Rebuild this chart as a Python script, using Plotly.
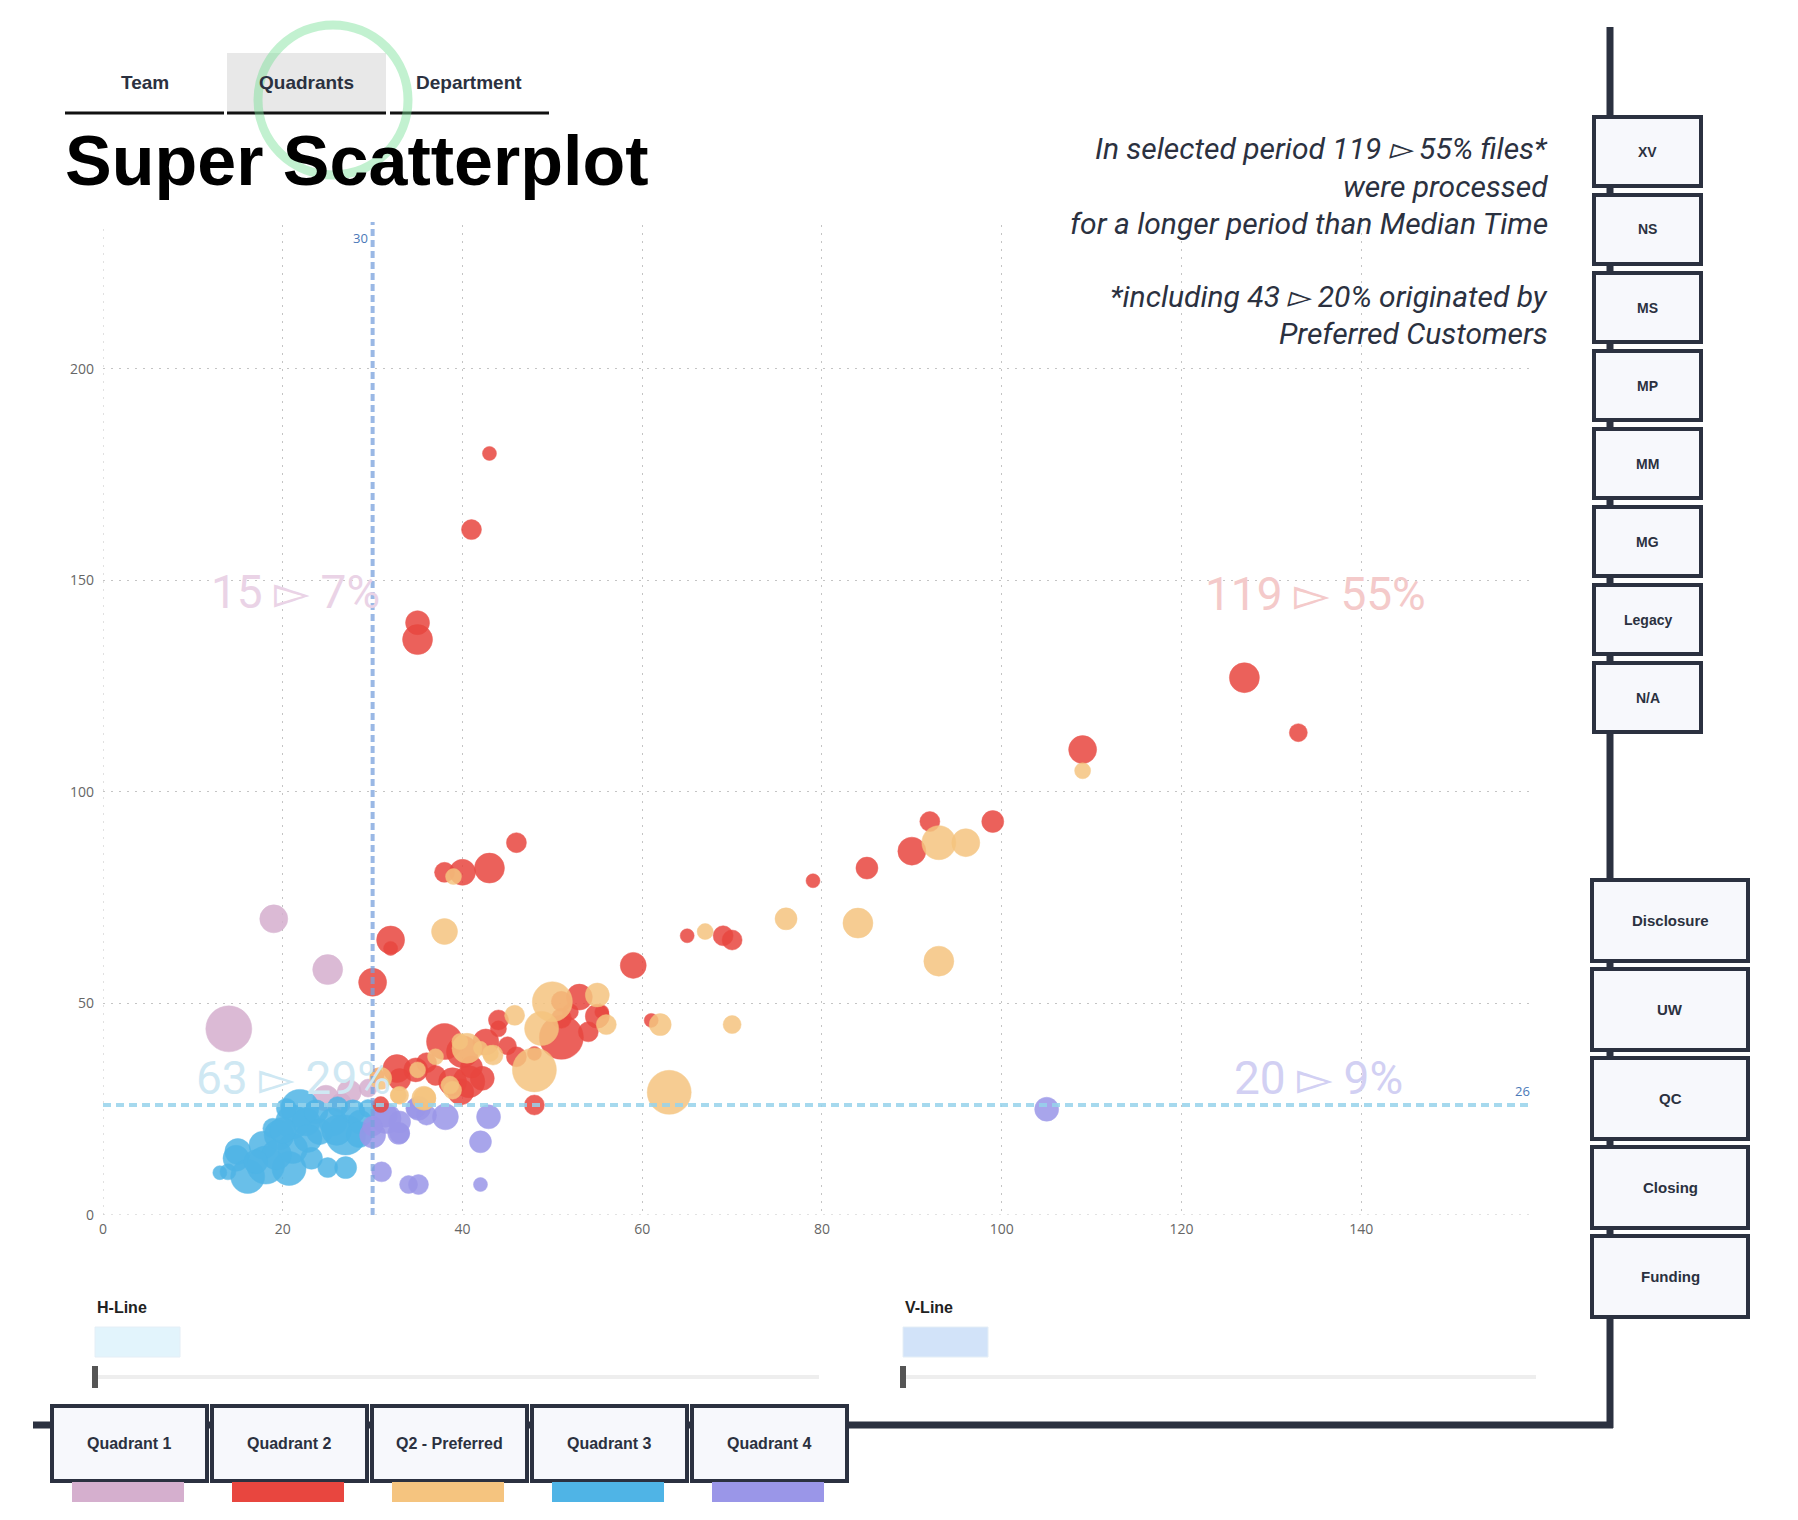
import plotly.graph_objects as go

# page size and plot box in pixels
W, H = 1798, 1520
PL, PR, PT, PB = 103, 1532, 225, 1215

# Quadrant 1 (pink)
q1_x = [14, 19, 25, 24.8, 27.4, 29.5, 26.5]
q1_y = [44, 70, 58, 27.6, 29.1, 30, 26.5]
q1_s = [46, 28, 30, 26, 24, 18, 20]

# Quadrant 2 (red)
q2_x = [43, 41, 35, 35, 46, 43, 40, 38, 32, 32, 30, 127, 133, 109, 99, 92, 90, 85, 79,
        65, 69, 70, 59, 61, 55.5, 53, 51, 55, 54, 51, 51, 48, 46, 44, 42.6, 42.2, 38, 40,
        40.7, 38.9, 39.8, 34.8, 32.7, 30.9, 48, 30.5, 36, 44, 52, 33, 37, 45, 41]
q2_y = [180, 162, 140, 136, 88, 82, 81, 81, 65, 63, 55, 127, 114, 110, 93, 93, 86, 82, 79,
        66, 66, 65, 59, 46, 48, 51.5, 50.5, 47, 43.3, 42, 46.5, 38.2, 37.4, 46.1, 40.9, 32.3, 41, 38.6,
        31.5, 31.5, 29.1, 34.3, 34.6, 26.1, 26, 33, 36, 44, 48, 32, 33, 40, 35]
q2_s = [14, 20, 24, 30, 20, 30, 26, 20, 28, 14, 28, 30, 18, 28, 22, 20, 28, 22, 14,
        14, 20, 20, 26, 14, 14, 26, 20, 24, 20, 44, 20, 14, 20, 20, 26, 24, 36, 32,
        32, 28, 26, 24, 28, 16, 20, 14, 20, 16, 16, 22, 20, 18, 22]

# Q2 - Preferred (orange)
q2p_x = [39, 38, 109, 93, 96, 76, 84, 67, 93, 62, 70, 63, 55, 56, 50, 48.8, 48, 45.8, 43.4,
         42, 37, 35, 32.85, 30.9, 35.7, 38.9, 33, 35.8, 39.7, 43.1, 40.5, 38.6]
q2p_y = [80, 67, 105, 88, 88, 70, 69, 67, 60, 45, 45, 29, 52, 45, 50.4, 44.1, 34.3, 47.2, 37.8,
         39.4, 37.4, 34.3, 28.3, 32.3, 27.6, 29.5, 28.3, 27.6, 41, 38.2, 39.4, 30.7]
q2p_s = [16, 26, 16, 34, 28, 22, 30, 16, 30, 22, 18, 44, 24, 20, 40, 34, 44, 20, 20,
         14, 16, 16, 16, 22, 24, 18, 18, 22, 16, 16, 30, 18]

# Quadrant 3 (blue)
q3_x = [15, 13.9, 14.8, 16.1, 18.1, 18.9, 17.8, 19.6, 21.1, 21.9, 20.7, 23.2, 21.1, 22.6, 23.7, 25,
        27, 27, 25.6, 27.8, 28.6, 24.1, 19.3, 17, 29.5, 26.1, 22.8, 20.4, 26, 28.5, 20, 13]
q3_y = [15, 10.2, 13.4, 9.1, 11.8, 20.5, 16.5, 18.9, 22, 25.2, 11, 13.4, 15.7, 22, 24.4, 11.2,
        11.2, 18.9, 22, 24.4, 22, 19.7, 14.2, 12.6, 25.2, 25.6, 18.1, 25.2, 20, 19, 20, 10]
q3_s = [26, 16, 26, 34, 38, 20, 28, 30, 34, 38, 34, 22, 30, 28, 24, 20,
        22, 40, 28, 24, 24, 26, 30, 24, 18, 20, 28, 20, 30, 26, 26, 14]

# Quadrant 4 (purple)
q4_x = [105, 30, 33, 35.1, 38.1, 42.9, 42, 42, 31, 34, 35.1, 31.5, 36, 31.4, 32.9, 34.8, 30, 33]
q4_y = [25, 18.9, 19.3, 25.2, 23.2, 23.2, 17.3, 7.2, 10.2, 7.2, 7.2, 22.8, 23.6, 23.6, 19.3, 25.2, 21, 22]
q4_s = [24, 26, 20, 24, 26, 24, 22, 14, 20, 18, 20, 30, 20, 24, 22, 20, 20, 22]

x_ticks = [0, 20, 40, 60, 80, 100, 120, 140]
y_ticks = [0, 50, 100, 150, 200]
v_line = 30
h_line = 26

quad_labels = ["15 ▻ 7%", "119 ▻ 55%", "63 ▻ 29%", "20 ▻ 9%"]
quad_names = ["Quadrant 1", "Quadrant 2", "Q2 - Preferred", "Quadrant 3", "Quadrant 4"]
quad_colors = ["#d5afce", "#e8463f", "#f5c47f", "#4fb4e6", "#9a96e8"]
tabs = ["Team", "Quadrants", "Department"]
stage_buttons = ["XV", "NS", "MS", "MP", "MM", "MG", "Legacy", "N/A"]
step_buttons = ["Disclosure", "UW", "QC", "Closing", "Funding"]
note_lines = ["In selected period 119 ▻ 55% files*", "were processed",
              "for a longer period than Median Time", "*including 43 ▻ 20% originated by",
              "Preferred Customers"]

DARK = "#2b3140"
GRID = dict(color="#c4c4c4", width=1, dash="2px,6px")


def fx(px):
    """pixel x -> paper x"""
    return (px - PL) / (PR - PL)


def fy(py):
    """pixel y (from top) -> paper y"""
    return (PB - py) / (PB - PT)


def note(px, py, text, font, xanchor="center"):
    annotations.append(dict(xref="paper", yref="paper", x=fx(px), y=fy(py), text=text,
                            showarrow=False, xanchor=xanchor, yanchor="middle", font=font))


fig = go.Figure()

groups = [(q1_x, q1_y, q1_s), (q3_x, q3_y, q3_s), (q4_x, q4_y, q4_s),
          (q2_x, q2_y, q2_s), (q2p_x, q2p_y, q2p_s)]
order = [0, 3, 4, 1, 2]
for (gx, gy, gs), k in zip(groups, order):
    fig.add_trace(go.Scatter(
        x=gx, y=gy, mode="markers", name=quad_names[k],
        marker=dict(size=gs, color=quad_colors[k], opacity=0.85,
                    line=dict(width=0.5, color=quad_colors[k]))
    ))

shapes = []
annotations = []

# grid lines at the plot edges (x = 0 and y = 0)
shapes.append(dict(type="line", xref="x", yref="paper", x0=0, x1=0, y0=0, y1=1, line=GRID,
                   layer="below"))
shapes.append(dict(type="line", xref="paper", yref="y", x0=0, x1=1, y0=0, y1=0, line=GRID,
                   layer="below"))

# median lines
shapes.append(dict(type="line", xref="x", yref="paper", x0=v_line, x1=v_line, y0=0, y1=fy(222),
                   line=dict(color="rgba(120,160,220,0.75)", width=4, dash="7px,4px")))
shapes.append(dict(type="line", xref="paper", yref="y", x0=0, x1=1, y0=h_line, y1=h_line,
                   line=dict(color="rgba(150,210,235,0.85)", width=4, dash="8px,5px")))
annotations.append(dict(xref="x", yref="paper", x=v_line, y=fy(238), text=str(v_line),
                        showarrow=False, xanchor="right", yanchor="middle", xshift=-3,
                        font=dict(family="Open Sans", size=13, color="#4a78b8")))
annotations.append(dict(xref="paper", yref="y", x=1, y=h_line, text=str(h_line),
                        showarrow=False, xanchor="right", yanchor="bottom", yshift=3,
                        font=dict(family="Open Sans", size=13, color="#4a78b8")))

# quadrant counts
label_pos = [(295, 592), (1315, 594), (293, 1078), (1318, 1078)]
label_cols = ["#ead3e6", "#f4caca", "#cfe8f3", "#d2d0f3"]
for txt, (px, py), col in zip(quad_labels, label_pos, label_cols):
    note(px, py, txt, dict(family="Roboto", size=46, color=col))

# title and tabs
note(63, 161, "<b>Super Scatterplot</b>",
     dict(family="Liberation Sans", size=70, color="#000000"), xanchor="left")
shapes.append(dict(type="rect", xref="paper", yref="paper", x0=fx(227), x1=fx(386),
                   y0=fy(53), y1=fy(113), fillcolor="#e8e8e8", line=dict(width=0)))
tab_x = [(65, 224), (227, 386), (390, 549)]
for name, (a, b) in zip(tabs, tab_x):
    shapes.append(dict(type="line", xref="paper", yref="paper", x0=fx(a), x1=fx(b),
                       y0=fy(113), y1=fy(113), line=dict(color="#111111", width=3)))
    note((a + b) / 2, 83, "<b>%s</b>" % name,
         dict(family="Liberation Sans", size=19, color=DARK))
# click highlight ring
shapes.append(dict(type="circle", xref="paper", yref="paper", x0=fx(258), x1=fx(408),
                   y0=fy(25), y1=fy(175), line=dict(color="rgba(120,225,150,0.45)", width=9)))

# note text on the right
note_y = [149, 186, 223, 296, 333]
for line, py in zip(note_lines, note_y):
    note(1550, py, "<i>%s</i>" % line, dict(family="Roboto", size=30, color=DARK),
         xanchor="right")

# control rail
shapes.append(dict(type="line", xref="paper", yref="paper", x0=fx(1610), x1=fx(1610),
                   y0=fy(27), y1=fy(1428), line=dict(color=DARK, width=7)))
shapes.append(dict(type="line", xref="paper", yref="paper", x0=fx(33), x1=fx(1613),
                   y0=fy(1425), y1=fy(1425), line=dict(color=DARK, width=7)))


def button(x0, x1, y0, y1, label, size):
    shapes.append(dict(type="rect", xref="paper", yref="paper", x0=fx(x0), x1=fx(x1),
                       y0=fy(y0), y1=fy(y1), fillcolor="#f7f8fc",
                       line=dict(color=DARK, width=4)))
    note((x0 + x1) / 2, (y0 + y1) / 2, "<b>%s</b>" % label,
         dict(family="Liberation Sans", size=size, color=DARK))


for i, name in enumerate(stage_buttons):
    top = 117 + 78 * i
    button(1594, 1701, top, top + 69, name, 14)
for i, name in enumerate(step_buttons):
    top = 880 + 89 * i
    button(1592, 1748, top, top + 81, name, 15)
for i, name in enumerate(quad_names):
    left = 52 + 160 * i
    button(left, left + 155, 1406, 1481, name, 16)
    shapes.append(dict(type="rect", xref="paper", yref="paper", x0=fx(left + 20),
                       x1=fx(left + 132), y0=fy(1482), y1=fy(1502),
                       fillcolor=quad_colors[i], line=dict(width=0)))

# sliders
for label, lx, rx, col in [("H-Line", 95, 819, "#e2f4fc"), ("V-Line", 903, 1536, "#d2e3f9")]:
    note(lx, 1307, "<b>%s</b>" % label,
         dict(family="Liberation Sans", size=16, color="#222222"), xanchor="left")
    shapes.append(dict(type="rect", xref="paper", yref="paper", x0=fx(lx), x1=fx(lx + 85),
                       y0=fy(1327), y1=fy(1357), fillcolor=col,
                       line=dict(color="#e4eef6", width=1)))
    shapes.append(dict(type="line", xref="paper", yref="paper", x0=fx(lx), x1=fx(rx),
                       y0=fy(1377), y1=fy(1377), line=dict(color="#eeeeee", width=4)))
    shapes.append(dict(type="rect", xref="paper", yref="paper", x0=fx(lx - 3), x1=fx(lx + 3),
                       y0=fy(1366), y1=fy(1388), fillcolor="#555555", line=dict(width=0)))

axis_style = dict(showgrid=True, gridcolor="#c4c4c4", griddash="2px,6px", gridwidth=1,
                  zeroline=False, showline=False, ticks="",
                  tickfont=dict(family="Open Sans", size=14, color="#666666"))

fig.update_layout(
    width=W, height=H,
    margin=dict(l=PL, r=W - PR, t=PT, b=H - PB, pad=0),
    paper_bgcolor="white", plot_bgcolor="white",
    showlegend=False,
    shapes=shapes,
    annotations=annotations,
    xaxis=dict(range=[0, 159], tickvals=x_ticks, ticklabelstandoff=4, **axis_style),
    yaxis=dict(range=[0, 234], tickvals=y_ticks, ticklabelstandoff=8, **axis_style),
)

fig.write_html("out.html", config={"displayModeBar": False},
               post_script="document.body.style.margin='0px';document.body.style.overflow='hidden';")
